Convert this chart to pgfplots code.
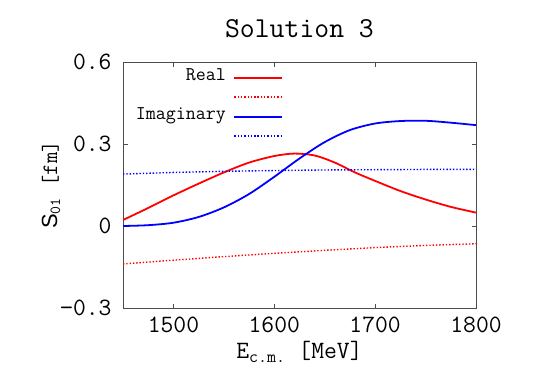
\documentclass[border=0pt]{standalone}
\usepackage{fontspec}
\setsansfont{Liberation Sans}
\usepackage{pgfplots}
\pgfplotsset{compat=1.18}
\begin{document}
\begin{tikzpicture}[x=1bp,y=1bp]
  \path (0,0) rectangle (545,382);
  \begin{axis}[
      at={(123bp,74bp)}, anchor=south west,
      scale only axis, width=353bp, height=246bp,
      xmin=1450, xmax=1800, ymin=-0.3, ymax=0.6,
      xtick={1500,1600,1700,1800},
      ytick={-0.3,0,0.3,0.6},
      yticklabels={−0.3,0,0.3,0.6},
      tick align=inside, major tick length=4.5bp,
      axis line style={draw=black!70, line width=0.8pt},
      every tick/.style={black!70, line width=0.6pt},
      /pgf/number format/assume math mode=true,
      /pgf/number format/1000 sep={},
      tick label style={font=\ttfamily\fontsize{25}{28}\selectfont},
      xticklabel style={yshift=-5bp},
      yticklabel style={xshift=-8bp},
      title={Solution 3},
      title style={font=\ttfamily\fontsize{29}{32}\selectfont, yshift=15bp},
      xlabel={E\textsubscript{c.m.} [MeV]},
      xlabel style={font=\ttfamily\fontsize{25}{28}\selectfont, yshift=-2bp},
      ylabel={\textsf{S}\textsubscript{01} [fm]},
      ylabel style={font=\ttfamily\fontsize{22}{24}\selectfont, yshift=-7bp},
      legend plot pos=right,
      legend cell align=right,
      legend image code/.code={\draw[#1] (0bp,0bp) -- (48bp,0bp);},
      legend style={at={(rel axis cs:0.463,0.985)}, anchor=north east,
        draw=none, fill=none, font=\ttfamily\fontsize{19.5}{22}\selectfont,
        nodes={inner sep=1.5bp, text height=11bp, text depth=5.5bp},
        column sep=6bp},
    ]
    \addplot[red, line width=1.8pt, smooth] coordinates {
      (1450,0.022) (1475,0.066) (1500,0.112) (1525,0.155) (1550,0.196)
      (1575,0.232) (1600,0.256) (1620,0.265) (1640,0.258) (1660,0.232)
      (1680,0.196) (1700,0.165) (1725,0.128) (1750,0.097) (1775,0.070)
      (1800,0.049)};
    \addlegendentry{Real}
    \addplot[red, line width=1.4bp, dash pattern=on 1.4bp off 1.9bp] coordinates {
      (1450,-0.139) (1500,-0.125) (1550,-0.112) (1600,-0.100) (1650,-0.089)
      (1700,-0.079) (1750,-0.071) (1800,-0.065)};
    \addlegendentry{}
    \addplot[blue, line width=1.8pt, smooth] coordinates {
      (1450,0.000) (1475,0.003) (1500,0.012) (1525,0.033) (1550,0.068)
      (1575,0.117) (1600,0.180) (1625,0.247) (1650,0.307) (1675,0.351)
      (1700,0.375) (1725,0.384) (1750,0.385) (1775,0.378) (1800,0.369)};
    \addlegendentry{Imaginary}
    \addplot[blue, line width=1.4bp, dash pattern=on 1.4bp off 1.9bp] coordinates {
      (1450,0.190) (1500,0.196) (1550,0.200) (1600,0.203) (1650,0.205)
      (1700,0.206) (1750,0.207) (1800,0.207)};
    \addlegendentry{}
  \end{axis}
\end{tikzpicture}
\end{document}
